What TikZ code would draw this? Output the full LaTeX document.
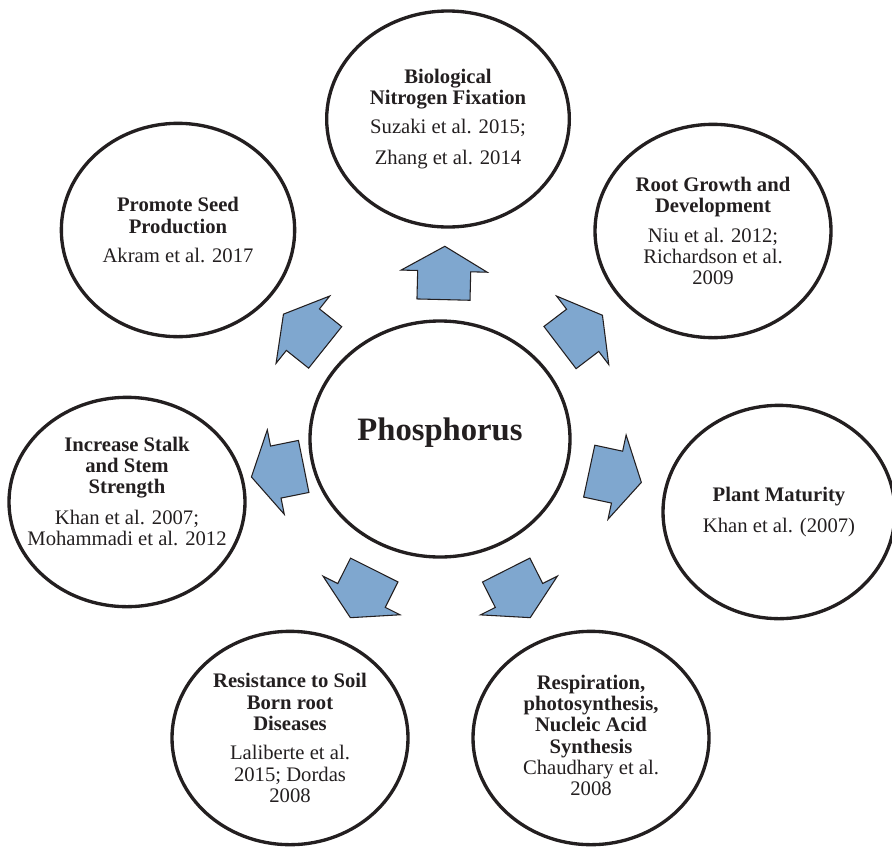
\documentclass[tikz,border=0pt]{standalone}
\usepackage{fontspec}
\setmainfont{Liberation Serif}
\definecolor{InkColor}{RGB}{35,31,32}
\definecolor{ArrowColor}{RGB}{127,167,207}
\usetikzlibrary{shapes.geometric, shapes.arrows, calc}
\tikzset{
    bubble/.style={
        ellipse,
        draw=InkColor,
        line width=2.5pt,
        minimum width=177pt,
        minimum height=160pt,
        inner sep=0pt
    },
    hub/.style={bubble, minimum width=195pt, minimum height=177pt},
    txt/.style={
        align=center,
        text=InkColor,
        font=\fontsize{15.5}{16}\selectfont,
        inner sep=0pt
    },
    hubtxt/.style={txt, font=\fontsize{24.5}{28}\selectfont\bfseries},
    blockarrow/.style={
        single arrow,
        draw=InkColor,
        fill=ArrowColor,
        line width=0.8pt,
        minimum height=40pt,
        inner xsep=0pt,
        inner ysep=19.5pt,
        single arrow head extend=12.4pt,
        single arrow tip angle=120
    }
}

\begin{document}
\begin{tikzpicture}[x=0.75pt, y=-0.75pt]
        \useasboundingbox (0,0) rectangle (892,847);

        \node[hub] (phos) at (440,439) {};
        \node[hubtxt] at ([yshift=4.5pt]phos) {Phosphorus};

        \node[bubble, minimum width=182pt, minimum height=162pt] (bnf) at (448,119) {};
        \node[txt] at (bnf) {\textbf{Biological}\\\textbf{Nitrogen Fixation}\\[6pt]Suzaki et al. 2015;\\[7pt]Zhang et al. 2014};

        \node[bubble] (root) at (713,231) {};
        \node[txt] at (root) {\textbf{Root Growth and}\\\textbf{Development}\\[6pt]Niu et al. 2012;\\Richardson et al.\\2009};

        \node[bubble, minimum width=174pt] (mat) at (779,512) {};
        \node[txt] at (mat) {\textbf{Plant Maturity}\\[7pt]Khan et al. (2007)};

        \node[bubble] (resp) at (591,738) {};
        \node[txt] at ([yshift=2pt]resp) {\textbf{Respiration,}\\\textbf{photosynthesis,}\\\textbf{Nucleic Acid}\\\textbf{Synthesis}\\Chaudhary et al.\\2008};

        \node[bubble] (res) at (290,738) {};
        \node[txt] at (res) {\textbf{Resistance to Soil}\\\textbf{Born root}\\\textbf{Diseases}\\[6pt]Laliberte et al.\\2015; Dordas\\2008};

        \node[bubble, minimum height=157pt] (stalk) at (127,502) {};
        \node[txt] at ([yshift=8pt]stalk) {\textbf{Increase Stalk}\\\textbf{and Stem}\\\textbf{Strength}\\[7pt]Khan et al. 2007;\\Mohammadi et al. 2012};

        \node[bubble, minimum width=175pt] (seed) at (178,230) {};
        \node[txt] at (seed) {\textbf{Promote Seed}\\\textbf{Production}\\[6pt]Akram et al. 2017};

        % block arrows from the hub outwards
        \foreach \dest in {bnf, root, mat, resp, res, stalk, seed}
            \path let \p1 = ($(\dest)-(phos)$), \n1 = {atan2(\y1,\x1)} in
                node[blockarrow, rotate=\n1] (arr-\dest) at ($(phos)!0.495!(\dest)$) {};

\end{tikzpicture}
\end{document}
